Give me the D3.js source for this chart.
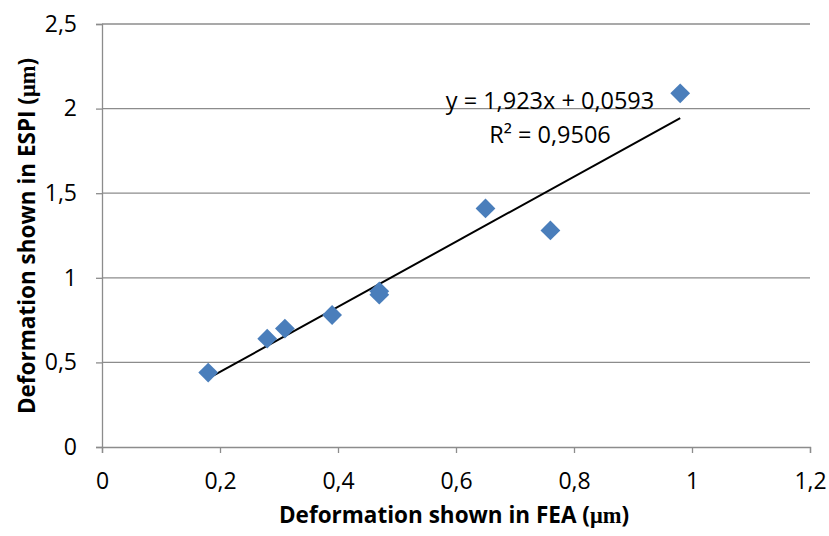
<html>
<head>
<script src="https://cdn.jsdelivr.net/npm/d3@7"></script>
<style>
  body { margin: 0; background: #fff; }
  svg text { font-family: "Open Sans", sans-serif; }
</style>
</head>
<body>
<div id="container"></div>
<script>
const feaValues = [0.18, 0.28, 0.31, 0.39, 0.47, 0.47, 0.65, 0.76, 0.98];
const espiValues = [0.44, 0.64, 0.70, 0.78, 0.90, 0.92, 1.41, 1.28, 2.09];
const xTicks = [0, 0.2, 0.4, 0.6, 0.8, 1, 1.2];
const yTicks = [0, 0.5, 1, 1.5, 2, 2.5];
const slope = 1.923, intercept = 0.0593;
const eqLines = ["y = 1,923x + 0,0593", "R² = 0,9506"];

const W = 829, H = 536;
const svg = d3.select("#container").append("svg").attr("width", W).attr("height", H);

const x = d3.scaleLinear().domain([0, 1.2]).range([102, 810]);
const y = d3.scaleLinear().domain([0, 2.5]).range([447, 24]);
const fmt = d => String(d).replace(".", ",");

// horizontal gridlines
svg.append("g").selectAll("line").data(yTicks.slice(1)).enter().append("line")
  .attr("x1", x(0)).attr("x2", x(1.2))
  .attr("y1", d => y(d)).attr("y2", d => y(d))
  .attr("stroke", "#8c8c8c").attr("stroke-width", 1.3);

const xAxis = svg.append("g").attr("transform", `translate(0,${y(0)})`)
  .call(d3.axisBottom(x).tickValues(xTicks).tickFormat(fmt).tickSize(6).tickPadding(20));
const yAxis = svg.append("g").attr("transform", `translate(${x(0)},0)`)
  .call(d3.axisLeft(y).tickValues(yTicks).tickFormat(fmt).tickSize(6).tickPadding(19));
[xAxis, yAxis].forEach(a => {
  a.attr("font-size", 23).attr("font-family", "Open Sans");
  a.select(".domain").attr("stroke", "#8c8c8c").attr("stroke-width", 1.3);
  a.selectAll(".tick line").attr("stroke", "#8c8c8c").attr("stroke-width", 1.3);
  a.selectAll(".tick text").attr("fill", "#000");
});

// trendline
svg.append("line")
  .attr("x1", x(d3.min(feaValues))).attr("y1", y(slope * d3.min(feaValues) + intercept))
  .attr("x2", x(d3.max(feaValues))).attr("y2", y(slope * d3.max(feaValues) + intercept))
  .attr("stroke", "#000").attr("stroke-width", 2);

// markers
svg.append("g").selectAll("path").data(feaValues).enter().append("path")
  .attr("d", d3.symbol(d3.symbolDiamond2, 250))
  .attr("transform", (d, i) => `translate(${x(d)},${y(espiValues[i])})`)
  .attr("fill", "#4a7ebb");

// equation
svg.append("g").selectAll("text").data(eqLines).enter().append("text")
  .attr("x", 550).attr("y", (d, i) => 109 + i * 34)
  .attr("text-anchor", "middle").attr("font-size", 23.5).text(d => d);

// axis titles
const xt = svg.append("text").attr("x", 454).attr("y", 523).attr("text-anchor", "middle")
  .attr("font-size", 22.5).attr("font-weight", "bold");
xt.append("tspan").text("Deformation shown in FEA (");
xt.append("tspan").style("font-family", "'Liberation Serif', serif").text("μm");
xt.append("tspan").text(")");

const yt = svg.append("text").attr("transform", "translate(35,236) rotate(-90)")
  .attr("text-anchor", "middle").attr("font-size", 22.5).attr("font-weight", "bold");
yt.append("tspan").text("Deformation shown in ESPI (");
yt.append("tspan").style("font-family", "'Liberation Serif', serif").text("μm");
yt.append("tspan").text(")");
</script>
</body>
</html>
